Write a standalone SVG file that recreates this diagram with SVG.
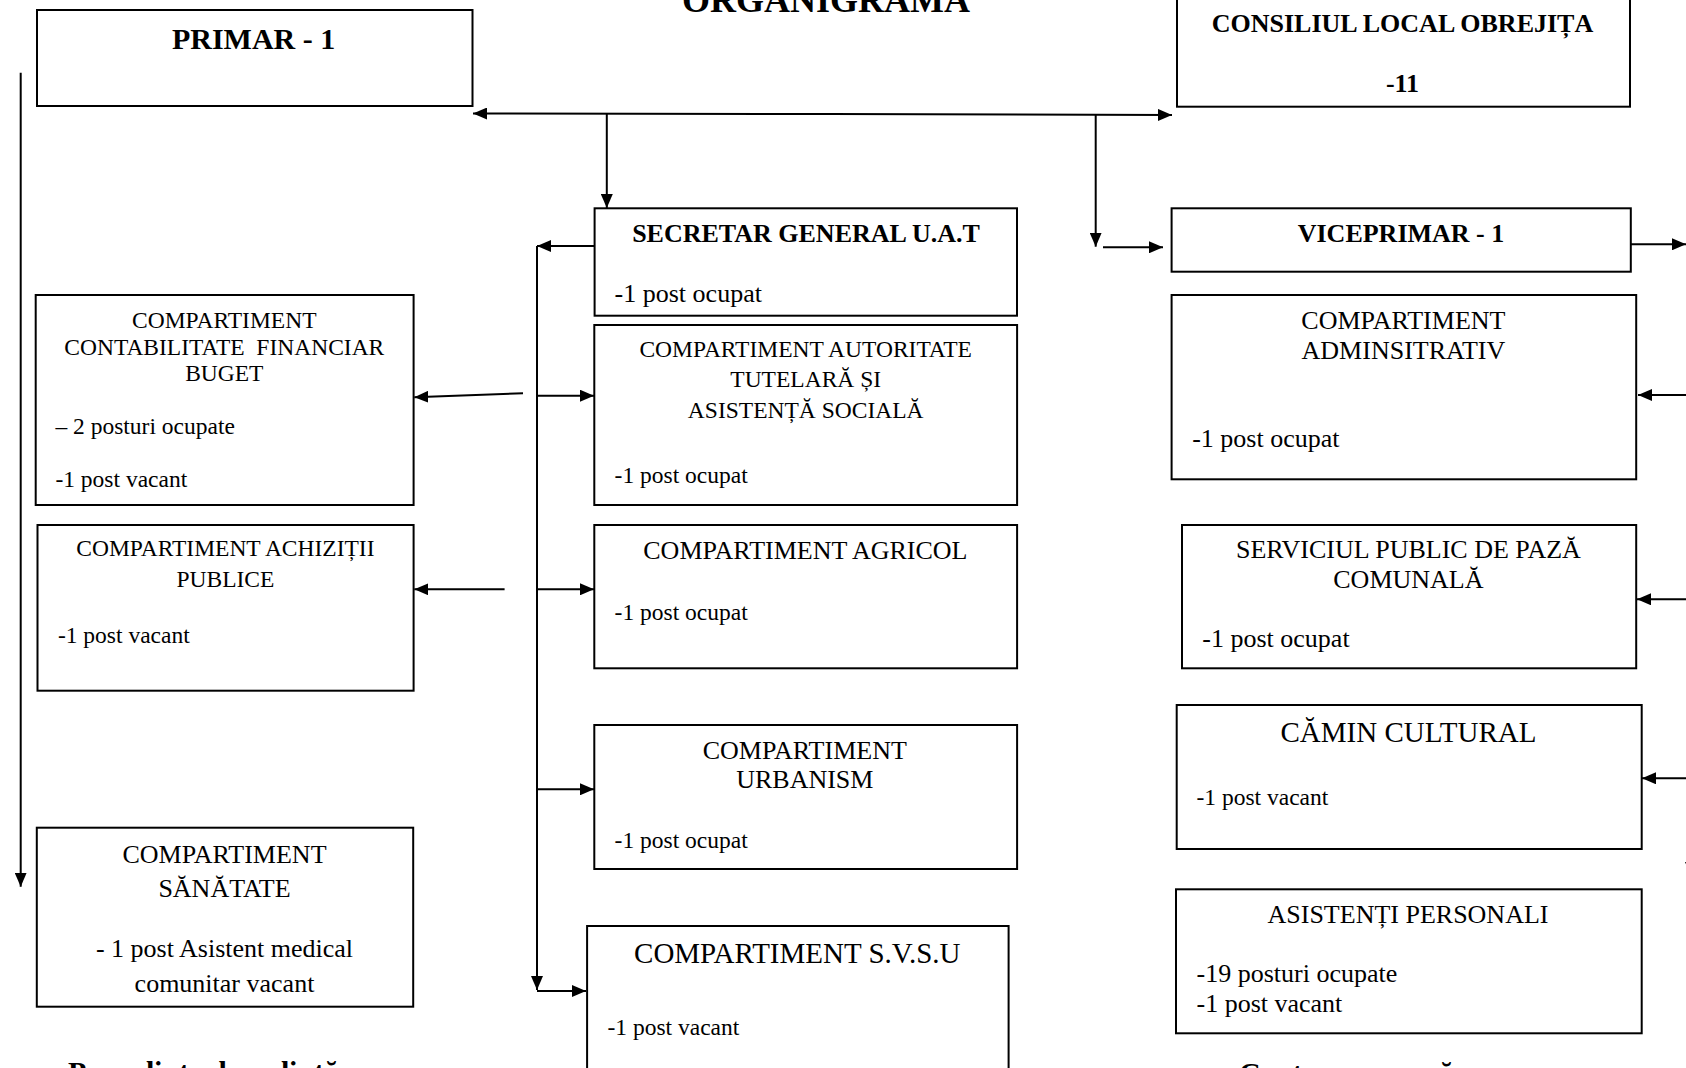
<svg xmlns="http://www.w3.org/2000/svg" width="1686" height="1068" viewBox="0 0 1686 1068">
<style>
  .box { fill: #fff; stroke: #000; stroke-width: 2; }
  .ln { fill: none; stroke: #000; stroke-width: 2; }
  text { font-family: "Liberation Serif", "Times New Roman", serif; fill: #000; }
  .b { font-weight: bold; }
  .c { text-anchor: middle; }
  .s235 { font-size: 23.5px; }
  .s26 { font-size: 26px; }
  .s29 { font-size: 29px; }
</style>
<defs>
  <marker id="ah" viewBox="0 0 14 12" refX="14" refY="6" markerWidth="14" markerHeight="12" markerUnits="userSpaceOnUse" orient="auto">
    <path d="M0,0 L14,6 L0,12 Z" fill="#000"/>
  </marker>
</defs>
<rect width="1686" height="1068" fill="#fff"/>

<text class="b c" x="826" y="12" font-size="36">ORGANIGRAMA</text>

<g id="connectors">
  <path class="ln" d="M830 114 L473 113.5" marker-end="url(#ah)"/>
  <path class="ln" d="M830 114 L1172 115" marker-end="url(#ah)"/>
  <path class="ln" d="M606.8 114 V208" marker-end="url(#ah)"/>
  <path class="ln" d="M1095.7 115 V246.7" marker-end="url(#ah)"/>
  <path class="ln" d="M1103 247.3 H1163" marker-end="url(#ah)"/>
  <path class="ln" d="M1631 244.3 H1686" marker-end="url(#ah)"/>
  <path class="ln" d="M1700 395 H1638" marker-end="url(#ah)"/>
  <path class="ln" d="M1700 599.3 H1637" marker-end="url(#ah)"/>
  <path class="ln" d="M1700 778.3 H1642" marker-end="url(#ah)"/>
  <polygon points="1685,862 1697,862 1691,876" fill="#000"/>
  <path class="ln" d="M594.6 246 H537" marker-end="url(#ah)"/>
  <path class="ln" d="M537 246 V990" marker-end="url(#ah)"/>
  <path class="ln" d="M537 395.7 H594" marker-end="url(#ah)"/>
  <path class="ln" d="M537 589.3 H594" marker-end="url(#ah)"/>
  <path class="ln" d="M537 789.3 H594" marker-end="url(#ah)"/>
  <path class="ln" d="M537 991 H586" marker-end="url(#ah)"/>
  <path class="ln" d="M523 393.3 L414.3 397.3" marker-end="url(#ah)"/>
  <path class="ln" d="M504.6 589.3 H414.3" marker-end="url(#ah)"/>
  <path class="ln" d="M20.7 72.7 V886.7" marker-end="url(#ah)"/>
</g>

<g id="primar">
  <rect class="box" x="37" y="10" width="435.5" height="96"/>
  <text class="b c" x="253.6" y="48.5" font-size="30">PRIMAR - 1</text>
</g>

<g id="consiliul">
  <rect class="box" x="1177" y="-10" width="453" height="116.7"/>
  <text class="b c s26" x="1402.5" y="32.3">CONSILIUL LOCAL OBREJIȚA</text>
  <text class="b c s26" x="1402.5" y="91.7">-11</text>
</g>

<g id="secretar">
  <rect class="box" x="594.6" y="208.3" width="422.4" height="107.4"/>
  <text class="b c s26" x="806" y="242.3">SECRETAR GENERAL U.A.T</text>
  <text class="s26" x="614.6" y="302">-1 post ocupat</text>
</g>

<g id="viceprimar">
  <rect class="box" x="1171.6" y="208.3" width="459.2" height="63.4"/>
  <text class="b c s26" x="1401" y="242.3">VICEPRIMAR - 1</text>
</g>

<g id="contabilitate">
  <rect class="box" x="35.7" y="295" width="377.9" height="210"/>
  <text class="c s235" x="224.3" y="327.7">COMPARTIMENT</text>
  <text class="c s235" x="224.3" y="355" xml:space="preserve">CONTABILITATE  FINANCIAR</text>
  <text class="c s235" x="224.3" y="381">BUGET</text>
  <text class="s235" x="55.4" y="434">– 2 posturi ocupate</text>
  <text class="s235" x="55.4" y="486.7">-1 post vacant</text>
</g>

<g id="achizitii">
  <rect class="box" x="37.5" y="525" width="376.1" height="165.7"/>
  <text class="c s235" x="225.4" y="556">COMPARTIMENT ACHIZIȚII</text>
  <text class="c s235" x="225.4" y="587.3">PUBLICE</text>
  <text class="s235" x="57.9" y="642.7">-1 post vacant</text>
</g>

<g id="autoritate">
  <rect class="box" x="594.3" y="325" width="422.8" height="180"/>
  <text class="c s235" x="805.7" y="357.3">COMPARTIMENT AUTORITATE</text>
  <text class="c s235" x="805.7" y="386.7">TUTELARĂ ȘI</text>
  <text class="c s235" x="805.7" y="418.3">ASISTENȚĂ SOCIALĂ</text>
  <text class="s235" x="614.6" y="482.7">-1 post ocupat</text>
</g>

<g id="agricol">
  <rect class="box" x="594.3" y="525" width="422.8" height="143.3"/>
  <text class="c s26" x="805.4" y="559.3">COMPARTIMENT AGRICOL</text>
  <text class="s235" x="614.6" y="620">-1 post ocupat</text>
</g>

<g id="urbanism">
  <rect class="box" x="594.3" y="725" width="422.8" height="144"/>
  <text class="c s26" x="804.8" y="759.3">COMPARTIMENT</text>
  <text class="c s26" x="804.8" y="788.3">URBANISM</text>
  <text class="s235" x="614.6" y="848.3">-1 post ocupat</text>
</g>

<g id="svsu">
  <rect class="box" x="587.1" y="926" width="421.5" height="200"/>
  <text class="c s29" x="797.3" y="963">COMPARTIMENT S.V.S.U</text>
  <text class="s235" x="607.5" y="1035">-1 post vacant</text>
</g>

<g id="sanatate">
  <rect class="box" x="36.8" y="827.7" width="376.4" height="179"/>
  <text class="c s26" x="224.5" y="862.7">COMPARTIMENT</text>
  <text class="c s26" x="224.5" y="896.7">SĂNĂTATE</text>
  <text class="c s26" x="224.5" y="956.7">- 1 post Asistent medical</text>
  <text class="c s26" x="224.5" y="991.7">comunitar vacant</text>
</g>

<g id="administrativ">
  <rect class="box" x="1171.6" y="295" width="464.6" height="184.3"/>
  <text class="c s26" x="1403.4" y="329.3">COMPARTIMENT</text>
  <text class="c s26" x="1403.4" y="359">ADMINSITRATIV</text>
  <text class="s26" x="1192.2" y="446.7">-1 post ocupat</text>
</g>

<g id="paza">
  <rect class="box" x="1182" y="525" width="454.2" height="143.3"/>
  <text class="c s26" x="1408.4" y="558.3">SERVICIUL PUBLIC DE PAZĂ</text>
  <text class="c s26" x="1408.4" y="588.3">COMUNALĂ</text>
  <text class="s26" x="1202.3" y="646.7">-1 post ocupat</text>
</g>

<g id="camin">
  <rect class="box" x="1176.7" y="705" width="465" height="144"/>
  <text class="c s29" x="1408.5" y="742">CĂMIN CULTURAL</text>
  <text class="s235" x="1196.5" y="805">-1 post vacant</text>
</g>

<g id="asistenti">
  <rect class="box" x="1176" y="889.3" width="465.7" height="144"/>
  <text class="c s26" x="1408" y="923.3">ASISTENȚI PERSONALI</text>
  <text class="s26" x="1196.5" y="981.7">-19 posturi ocupate</text>
  <text class="s26" x="1196.5" y="1011.7">-1 post vacant</text>
</g>

<text class="b" x="68" y="1082" font-size="30">Președinte de ședință</text>
<text class="b" x="1239" y="1083" font-size="30">Contrasemnează</text>
</svg>
